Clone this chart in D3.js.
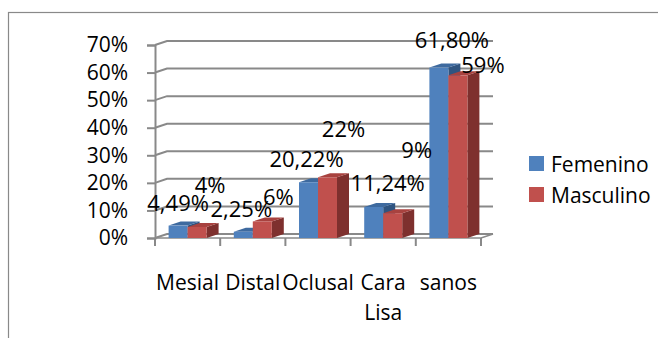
<!DOCTYPE html>
<html>
<head>
<meta charset="utf-8">
<script src="https://cdn.jsdelivr.net/npm/d3@7"></script>
<style>
  html, body { margin: 0; padding: 0; background: #fff; }
  svg { display: block; }
  text { font-family: "Open Sans", "Noto Sans", sans-serif; fill: #000; }
</style>
</head>
<body>
<svg id="chart" width="658" height="338"></svg>
<script>
// Caries por superficie, por sexo
const categories = ["Mesial", "Distal", "Oclusal", "Cara Lisa", "sanos"];
const seriesNames = ["Femenino", "Masculino"];
const femenino = [4.49, 2.25, 20.22, 11.24, 61.80];
const masculino = [4, 6, 22, 9, 59];
const yTicks = [0, 10, 20, 30, 40, 50, 60, 70];

// Layout
const W = 658, H = 338;
const plot = { left: 155, right: 481, top: 45, bottom: 238 };
const DX = 12, DY = -4;          // 3D depth offset
const grey = "#898989";
const colors = {
  Femenino: { front: "#4F81BD", top: "#3E6A9F", side: "#2F5480" },
  Masculino: { front: "#C0504D", top: "#A8423F", side: "#7E302E" }
};
// label nudges (dx, dy from the bar's front top centre), per series
const labelNudge = {
  Femenino: [[0, -15], [-2, -15], [-2, -15], [14, -16], [13, -20]],
  Masculino: [[13, -34], [16, -16], [16, -40], [24, -55], [25, -2]]
};

const locale = d3.formatLocale({ decimal: ",", thousands: ".", grouping: [3], currency: ["", ""] });
const fmt = {
  Femenino: v => locale.format(".2f")(v) + "%",
  Masculino: v => locale.format("d")(v) + "%"
};

const svg = d3.select("#chart");

// outer frame
svg.append("rect")
  .attr("x", 8.5).attr("y", 12.5).attr("width", 700).attr("height", 400)
  .attr("fill", "none").attr("stroke", grey).attr("stroke-width", 1.2);

const x = d3.scaleBand().domain(categories).range([plot.left, plot.right]).paddingInner(0).paddingOuter(0);
const xs = d3.scaleBand().domain(seriesNames).range([0, x.bandwidth()]).paddingInner(0).paddingOuter(0.716);
const y = d3.scaleLinear().domain([0, 70]).range([plot.bottom, plot.top]);

// gridlines on left + back walls
const grid = svg.append("g");
yTicks.forEach(t => {
  const yy = y(t);
  grid.append("path")
    .attr("d", `M${plot.left},${yy} L${plot.left + DX},${yy + DY} L${plot.right + DX},${yy + DY}`)
    .attr("fill", "none").attr("stroke", grey).attr("stroke-width", 2);
});

// floor right edge
svg.append("path")
  .attr("d", `M${plot.left},${plot.bottom} L${plot.right},${plot.bottom} L${plot.right + DX},${plot.bottom + DY}`)
  .attr("fill", "none").attr("stroke", grey).attr("stroke-width", 1.5);

// y axis (front edge of left wall)
const yAxis = d3.axisLeft(y).tickValues(yTicks).tickSize(8).tickPadding(19).tickFormat(d => d + "%");
const gy = svg.append("g").attr("transform", `translate(${plot.left},0)`).call(yAxis);
gy.select(".domain").attr("stroke", grey).attr("stroke-width", 2);
gy.selectAll(".tick line").attr("stroke", grey).attr("stroke-width", 2);
gy.selectAll(".tick text").attr("font-size", 21).attr("font-family", "'Open Sans', sans-serif").attr("fill", "#000");

// x-axis tick marks at category boundaries
const bounds = categories.map(c => x(c)).concat([plot.right]);
svg.append("g").selectAll("line").data(bounds).join("line")
  .attr("x1", d => d).attr("x2", d => d)
  .attr("y1", plot.bottom).attr("y2", plot.bottom + 8)
  .attr("stroke", grey).attr("stroke-width", 2);

// category labels (wrapped at spaces)
const catG = svg.append("g");
categories.forEach(c => {
  const t = catG.append("text")
    .attr("x", x(c) + x.bandwidth() / 2).attr("y", 290)
    .attr("text-anchor", "middle").attr("font-size", 21);
  c.split(" ").forEach((w, i) => {
    t.append("tspan").attr("x", x(c) + x.bandwidth() / 2).attr("dy", i === 0 ? 0 : 30).text(w);
  });
});

// bars
const series = [
  { name: "Femenino", values: femenino },
  { name: "Masculino", values: masculino }
];
const barsG = svg.append("g");
categories.forEach((c, i) => {
  series.forEach(s => {
    const v = s.values[i];
    const x0 = x(c) + xs(s.name), x1 = x0 + xs.bandwidth();
    const y0 = y(0), y1 = y(v);
    const col = colors[s.name];
    // side
    barsG.append("path")
      .attr("d", `M${x1},${y0} L${x1 + DX},${y0 + DY} L${x1 + DX},${y1 + DY} L${x1},${y1} Z`)
      .attr("fill", col.side);
    // top
    barsG.append("path")
      .attr("d", `M${x0},${y1} L${x0 + DX},${y1 + DY} L${x1 + DX},${y1 + DY} L${x1},${y1} Z`)
      .attr("fill", col.top);
    // front
    barsG.append("rect")
      .attr("x", x0).attr("y", y1).attr("width", x1 - x0).attr("height", y0 - y1)
      .attr("fill", col.front);
  });
});

// data labels
const labG = svg.append("g");
series.forEach(s => {
  s.values.forEach((v, i) => {
    const c = categories[i];
    const cx = x(c) + xs(s.name) + xs.bandwidth() / 2;
    const [ndx, ndy] = labelNudge[s.name][i];
    labG.append("text")
      .attr("x", cx + ndx).attr("y", y(v) + ndy)
      .attr("text-anchor", "middle").attr("font-size", 22)
      .text(fmt[s.name](v));
  });
});

// legend
const leg = svg.append("g");
seriesNames.forEach((n, i) => {
  const ly = 156 + i * 31;
  leg.append("rect").attr("x", 529).attr("y", ly).attr("width", 15).attr("height", 15)
    .attr("fill", colors[n].front);
  leg.append("text").attr("x", 551).attr("y", ly + 7.5).attr("dominant-baseline", "central")
    .attr("font-size", 21).text(n);
});
</script>
</body>
</html>
